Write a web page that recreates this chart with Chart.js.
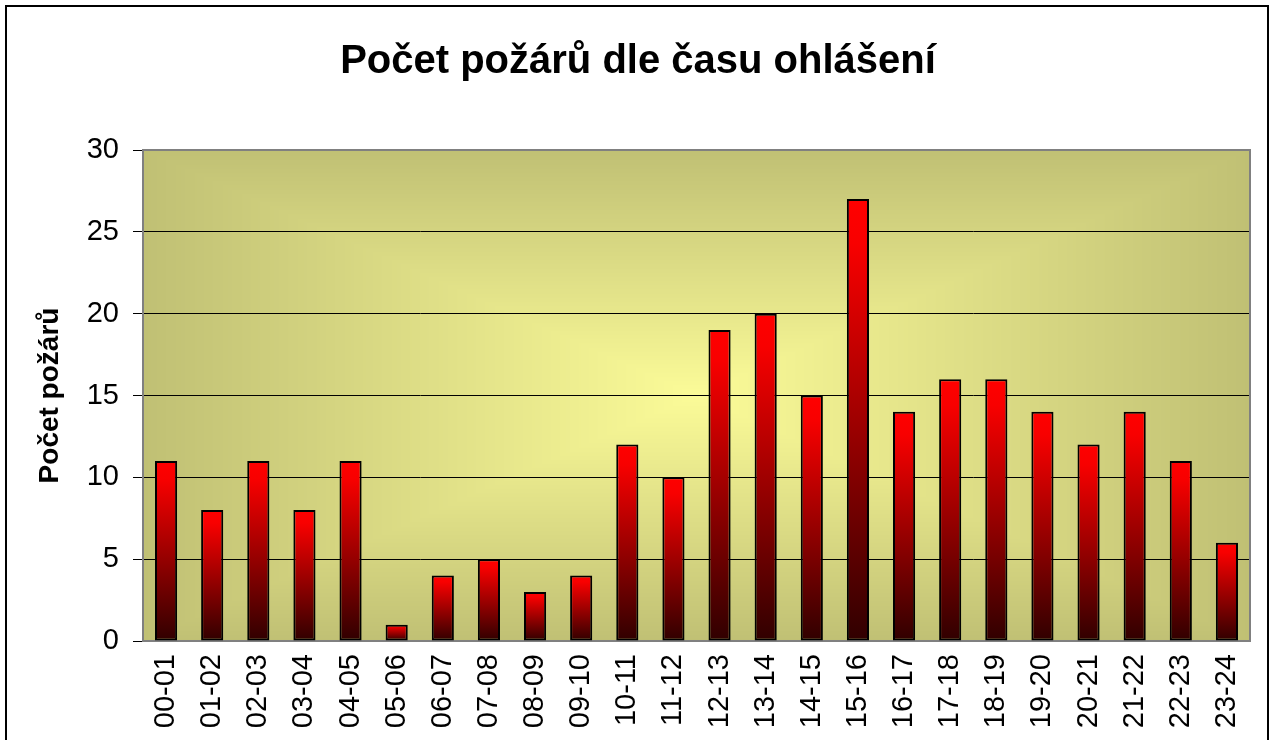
<!DOCTYPE html>
<html>
<head>
<meta charset="utf-8">
<script src="https://cdn.jsdelivr.net/npm/chart.js@4/dist/chart.umd.min.js"></script>
<style>
  html, body { margin: 0; padding: 0; background: #fff; overflow: hidden; }
  #frame { position: absolute; left: 5px; top: 5px; width: 1264px; height: 800px; border: 2px solid #000; box-sizing: border-box; pointer-events: none; }
  #wrap { position: absolute; left: 0; top: 0; width: 1270px; height: 740px; }
</style>
</head>
<body>
<div id="wrap"><canvas id="chart" width="1270" height="740"></canvas></div>
<div id="frame"></div>
<script>
const hours = ["00-01", "01-02", "02-03", "03-04", "04-05", "05-06", "06-07", "07-08",
  "08-09", "09-10", "10-11", "11-12", "12-13", "13-14", "14-15", "15-16",
  "16-17", "17-18", "18-19", "19-20", "20-21", "21-22", "22-23", "23-24"];
const fires = [11, 8, 11, 8, 11, 1, 4, 5, 3, 4, 12, 10, 19, 20, 15, 27, 14, 16, 16, 14, 12, 14, 11, 6];
const yMax = 30;
const yStep = 5;

const FONT = 'Arial, "Liberation Sans", sans-serif';

// red at the top of each bar, almost black at the bottom
function barFill(ctx) {
  const chart = ctx.chart;
  if (!chart.chartArea || ctx.type !== "data") return "#ff0000";
  const y = chart.scales.y;
  const top = y.getPixelForValue(ctx.raw);
  const bottom = y.getPixelForValue(0);
  const g = chart.ctx.createLinearGradient(0, top, 0, bottom);
  g.addColorStop(0, "#ff0000");
  g.addColorStop(0.1, "#f80000");
  g.addColorStop(1, "#300000");
  return g;
}

// excel-style "from center" gradient of the plot area, built pixel by pixel
let bgCache = null;
function plotGradient(w, h) {
  if (bgCache && bgCache.width === w && bgCache.height === h) return bgCache;
  const c = document.createElement("canvas");
  c.width = w; c.height = h;
  const cctx = c.getContext("2d");
  const img = cctx.createImageData(w, h);
  const inner = [251, 251, 152];
  const outer = [192, 192, 116];
  const hw = w / 2, hh = h / 2;
  for (let j = 0; j < h; j++) {
    for (let i = 0; i < w; i++) {
      const t = Math.max(Math.abs(i + 0.5 - hw) / hw, Math.abs(j + 0.5 - hh) / hh);
      const k = (j * w + i) * 4;
      img.data[k] = inner[0] + (outer[0] - inner[0]) * t;
      img.data[k + 1] = inner[1] + (outer[1] - inner[1]) * t;
      img.data[k + 2] = inner[2] + (outer[2] - inner[2]) * t;
      img.data[k + 3] = 255;
    }
  }
  cctx.putImageData(img, 0, 0);
  bgCache = c;
  return c;
}

const plotBackground = {
  id: "plotBackground",
  beforeDraw(chart) {
    const { ctx, chartArea: a } = chart;
    const w = Math.round(a.right - a.left);
    const h = Math.round(a.bottom - a.top);
    ctx.drawImage(plotGradient(w, h), a.left, a.top);
  },
  afterDraw(chart) {
    const { ctx, chartArea: a } = chart;
    ctx.save();
    ctx.strokeStyle = "#808080";
    ctx.lineWidth = 2;
    ctx.beginPath();
    ctx.moveTo(a.left, a.top);
    ctx.lineTo(a.right, a.top);
    ctx.lineTo(a.right, a.bottom);
    ctx.stroke();
    ctx.restore();
  }
};

new Chart(document.getElementById("chart"), {
  type: "bar",
  data: {
    labels: hours,
    datasets: [{
      label: "Počet požárů",
      data: fires,
      backgroundColor: barFill,
      borderColor: "#000",
      borderWidth: 2,
      borderSkipped: false,
      categoryPercentage: 1,
      barPercentage: 0.48
    }]
  },
  options: {
    responsive: false,
    animation: false,
    layout: { padding: { left: 26, right: 20, top: 0, bottom: 0 } },
    plugins: {
      legend: { display: false },
      tooltip: { enabled: false },
      title: {
        display: true,
        text: "Počet požárů dle času ohlášení",
        color: "#000",
        font: { family: FONT, size: 40, weight: "bold" },
        padding: { top: 38, bottom: 64 }
      }
    },
    scales: {
      x: {
        grid: { display: true, drawOnChartArea: false, drawTicks: false },
        border: { color: "#808080", width: 2 },
        ticks: {
          color: "#000",
          font: { family: FONT, size: 29 },
          minRotation: 90,
          maxRotation: 90,
          autoSkip: false,
          padding: 13
        },
        afterFit(s) {
          s.height = 99;
          s.paddingLeft = 0;
          s.paddingRight = 0;
        }
      },
      y: {
        min: 0,
        max: yMax,
        ticks: {
          stepSize: yStep,
          color: "#000",
          font: { family: FONT, size: 29 },
          padding: 14
        },
        grid: {
          color: c => (c.tick && (c.tick.value === 0 || c.tick.value === yMax)) ? "#808080" : "#000",
          tickColor: "#000",
          tickLength: 10,
          lineWidth: 1
        },
        border: { color: "#808080", width: 2 },
        title: {
          display: true,
          text: "Počet požárů",
          color: "#000",
          font: { family: FONT, size: 28, weight: "bold" },
          padding: { top: 7, bottom: 0 }
        },
        afterFit(s) {
          s.width = 117;
          s.paddingTop = 0;
          s.paddingBottom = 0;
        }
      }
    }
  },
  plugins: [plotBackground]
});
</script>
</body>
</html>
